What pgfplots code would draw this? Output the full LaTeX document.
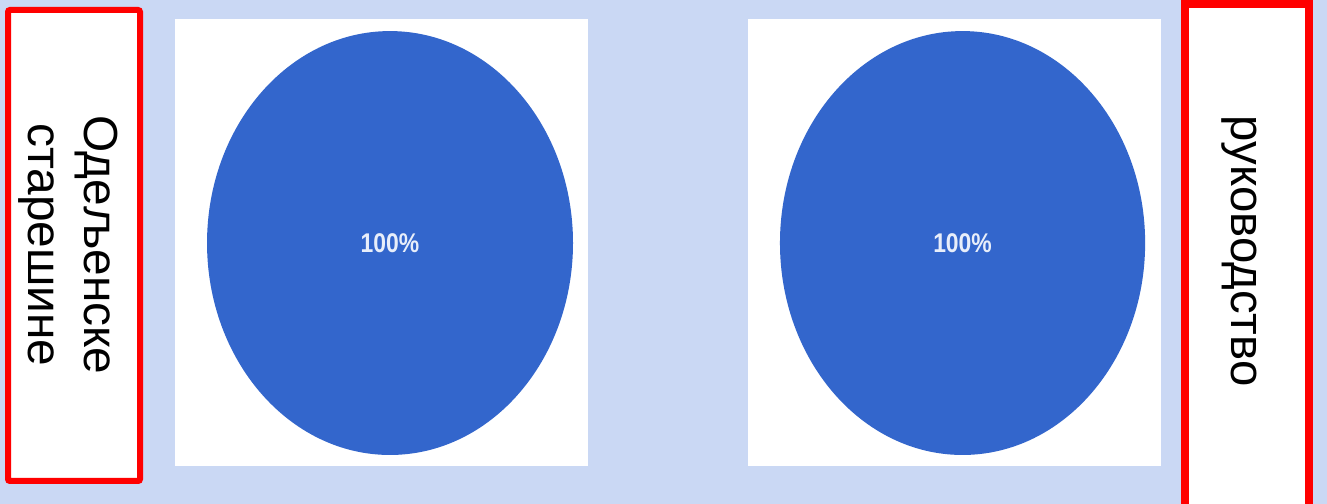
\documentclass[border=0pt]{standalone}
\usepackage{fontspec}
\setmainfont{Liberation Sans}
\usepackage{pgfplots}
\pgfplotsset{compat=1.18}
\usepackage{pgfplotstable}
\definecolor{bg}{RGB}{202,216,244}
\definecolor{pieblue}{RGB}{51,102,204}
\definecolor{boxred}{RGB}{255,0,0}
\definecolor{lbl}{RGB}{232,238,250}

\pgfplotstableread{
x y share
0 0 100
}\pieA
\pgfplotstableread{
x y share
0 0 100
}\pieB

\pgfplotsset{pieaxis/.style={scale only axis, width=413bp, height=447bp, hide axis,
  xmin=-1.175, xmax=1.082, ymin=-1.052, ymax=1.057, anchor=south west, clip=false,
  /pgf/number format/assume math mode=true}}
\pgfplotsset{pielabel/.style={only marks, mark=none, point meta=explicit,
  nodes near coords={\scalebox{1}[1.18]{\pgfmathprintnumber{\pgfplotspointmeta}\%}},
  nodes near coords align=center,
  every node near coord/.append style={font=\fontsize{23}{26}\selectfont\bfseries, text=lbl, inner sep=0pt}}}

\begin{document}
\begin{tikzpicture}[x=1bp,y=1bp]
\useasboundingbox (0,0) rectangle (1327,504);
\clip (0,0) rectangle (1327,504);
\fill[bg] (0,0) rectangle (1327,504);
\draw[boxred, line width=6bp, fill=white, rounded corners=2bp] (8,23) rectangle (140,494);
\node[rotate=-90, align=center, font=\fontsize{48}{56}\selectfont, inner sep=0pt] at (68,259) {Одељенске\\старешине};
\draw[boxred, line width=8bp, fill=white] (1185,-10) rectangle (1309,500);
\node[rotate=-90, font=\fontsize{47.5}{55}\selectfont, inner sep=0pt] at (1239,253) {руководство};

\begin{axis}[pieaxis, at={(175bp,38bp)}]
\fill[white] (rel axis cs:0,0) rectangle (rel axis cs:1,1);
\fill[pieblue] (axis cs:0,0) ellipse [x radius=1, y radius=1];
\addplot[pielabel] table[x=x, y=y, meta=share] {\pieA};
\end{axis}

\begin{axis}[pieaxis, at={(748bp,38bp)}, xmax=1.087]
\fill[white] (rel axis cs:0,0) rectangle (rel axis cs:1,1);
\fill[pieblue] (axis cs:0,0) ellipse [x radius=1, y radius=1];
\addplot[pielabel] table[x=x, y=y, meta=share] {\pieB};
\end{axis}
\end{tikzpicture}
\end{document}
